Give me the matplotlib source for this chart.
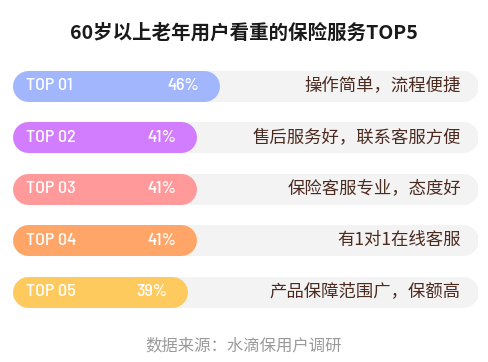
import matplotlib
matplotlib.use("Agg")
import matplotlib.pyplot as plt
from matplotlib import font_manager

ranks = ["TOP 01", "TOP 02", "TOP 03", "TOP 04", "TOP 05"]
values = [46, 41, 41, 41, 39]
labels = ["操作简单，流程便捷", "售后服务好，联系客服方便", "保险客服专业，态度好",
          "有1对1在线客服", "产品保障范围广，保额高"]
colors = ["#a2b6fd", "#d17dfd", "#ff999a", "#ffa567", "#ffca5d"]
title = "60岁以上老年用户看重的保险服务TOP5"
source = "数据来源：水滴保用户调研"

W, H = 488, 362
DPI = 100
fig = plt.figure(figsize=(W / DPI, H / DPI), dpi=DPI)
fig.patch.set_facecolor("white")

cjk = ["Noto Sans CJK SC", "DejaVu Sans"]
names = {f.name for f in font_manager.fontManager.ttflist}
latin_font = next((n for n in ["Barlow Semi Condensed", "Barlow Condensed", "Asap Condensed"]
                   if n in names), "Noto Sans CJK SC")
latin = [latin_font, "DejaVu Sans"]

# axes: 1 data unit = 4.5 px horizontally
left_px, right_px = 12, 478
px_per_unit = 4.5
track_max = (right_px - left_px) / px_per_unit
ax = fig.add_axes([left_px / W, 0, (right_px - left_px) / W, 1])
ax.set_xlim(0, track_max)
first_center, spacing = 85.5, 51.5
ax.set_ylim((H - first_center) / spacing, -first_center / spacing)
ax.axis("off")

bar_h_px = 31
lw = bar_h_px * 72 / DPI
r = bar_h_px / 2 / px_per_unit

for i, (rk, v, lab, c) in enumerate(zip(ranks, values, labels, colors)):
    ax.plot([r, track_max - r], [i, i], color="#f3f3f3", lw=lw, solid_capstyle="round", zorder=1)
    ax.plot([r, v - r], [i, i], color=c, lw=lw, solid_capstyle="round", zorder=2)
    ax.text(14 / px_per_unit, i, rk, color="white", fontsize=13, family=latin,
            fontweight="medium", ha="left", va="center", zorder=3)
    ax.text(v - 20 / px_per_unit, i, f"{v}%", color="white", fontsize=13, family=latin,
            fontweight="medium", ha="right", va="center", zorder=3)
    ax.text(track_max - 17 / px_per_unit, i, lab, color="#4b2a1f", fontsize=12.5,
            family=cjk, ha="right", va="center", zorder=3)

fig.text(0.5, 1 - 33 / H, title, ha="center", va="center", fontsize=14,
         fontweight="bold", family=cjk, color="#1a1a1a")
fig.text(0.5, 1 - 346 / H, source, ha="center", va="center", fontsize=11.8,
         family=cjk, color="#9a9a9a")

fig.savefig("out.png", dpi=DPI, facecolor="white")
